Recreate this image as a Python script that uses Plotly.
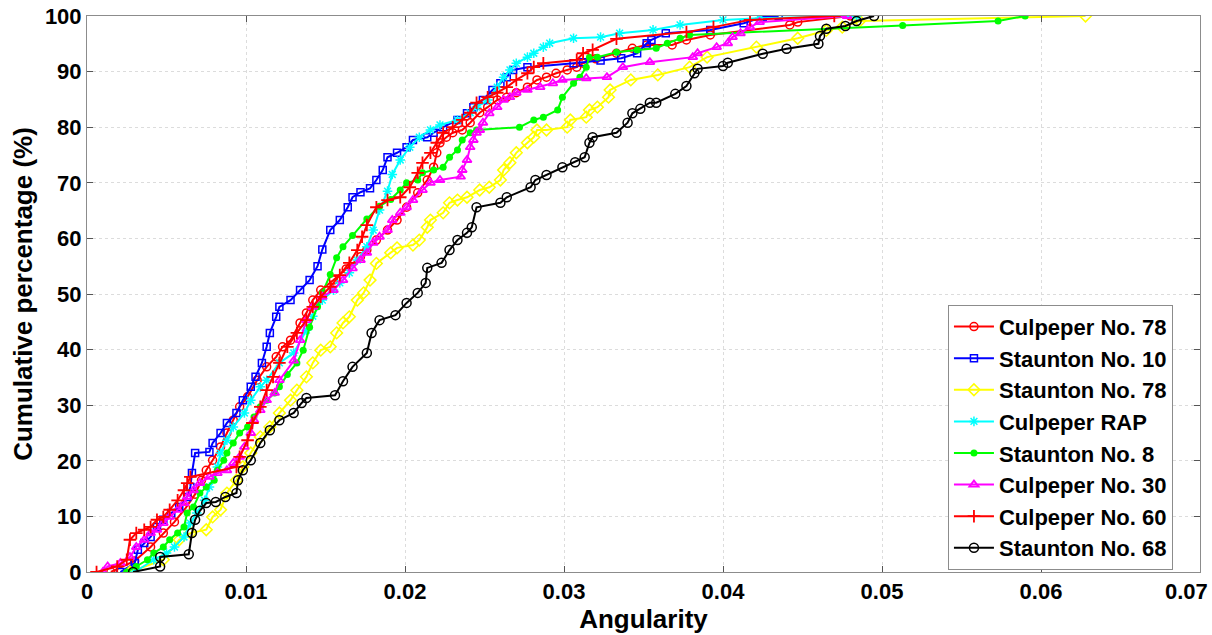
import plotly.graph_objects as go

# ---------------- data ----------------
names = ["Culpeper No. 78", "Staunton No. 10", "Staunton No. 78", "Culpeper RAP",
         "Staunton No. 8", "Culpeper No. 30", "Culpeper No. 60", "Staunton No. 68"]

c78_x = [0.0015, 0.0030, 0.0040, 0.0048, 0.0055, 0.0062, 0.0068, 0.0072, 0.0075, 0.0079,
         0.0084, 0.0088, 0.0092, 0.0096, 0.0101, 0.0107, 0.0113, 0.0119, 0.0123, 0.0128,
         0.0134, 0.0138, 0.0142, 0.0147, 0.0155, 0.0163, 0.0172, 0.0176, 0.0182, 0.0189,
         0.0195, 0.0201, 0.0208, 0.0214, 0.0218, 0.0220, 0.0222, 0.0226, 0.0230, 0.0236,
         0.0241, 0.0247, 0.0252, 0.0258, 0.0264, 0.0270, 0.0277, 0.0283, 0.0289, 0.0295,
         0.0302, 0.0308, 0.0312, 0.0320, 0.0333, 0.0343, 0.0352, 0.0368, 0.0377, 0.0392,
         0.0442, 0.0447, 0.0480]
c78_y = [0.0, 2.0, 4.5, 7.0, 9.0, 11.5, 14.0, 16.5, 18.3, 20.1,
         22.5, 25.0, 27.3, 29.7, 31.5, 34.5, 36.9, 38.7, 40.5, 41.7,
         44.8, 46.6, 48.9, 50.7, 52.5, 54.5, 56.7, 57.9, 59.7, 61.5,
         63.3, 65.6, 68.2, 70.5, 72.8, 75.4, 77.2, 78.2, 79.0, 79.5,
         80.8, 82.6, 83.6, 84.9, 85.4, 86.2, 87.2, 88.5, 89.0, 89.7,
         90.3, 90.8, 91.5, 92.3, 93.3, 94.2, 94.8, 94.8, 95.7, 96.6,
         98.4, 98.9, 100.0]

s10_x = [0.0021, 0.0030, 0.0032, 0.0036, 0.0040, 0.0044, 0.0048, 0.0053, 0.0058, 0.0063,
         0.0065, 0.0066, 0.0068, 0.0077, 0.0079, 0.0084, 0.0088, 0.0094, 0.0098, 0.0103,
         0.0106, 0.0110, 0.0113, 0.0115, 0.0119, 0.0121, 0.0128, 0.0134, 0.0140, 0.0145,
         0.0148, 0.0153, 0.0159, 0.0164, 0.0167, 0.0172, 0.0178, 0.0182, 0.0186, 0.0189,
         0.0195, 0.0201, 0.0205, 0.0214, 0.0218, 0.0224, 0.0233, 0.0239, 0.0243, 0.0249,
         0.0255, 0.0260, 0.0264, 0.0268, 0.0277, 0.0306, 0.0312, 0.0323, 0.0336, 0.0346,
         0.0352, 0.0355, 0.0364, 0.0392, 0.0413, 0.0425, 0.0435]
s10_y = [0.0, 1.6, 4.0, 5.2, 6.3, 8.1, 9.4, 10.6, 11.7, 13.5,
         15.3, 17.8, 21.4, 21.6, 23.2, 25.0, 26.8, 28.6, 30.9, 33.3,
         35.1, 37.6, 40.5, 43.0, 45.9, 47.7, 48.9, 50.7, 52.5, 55.0,
         58.0, 61.5, 63.3, 65.6, 67.4, 68.3, 69.0, 70.5, 72.3, 74.6,
         75.4, 76.4, 77.7, 78.2, 79.0, 80.0, 81.3, 82.5, 83.6, 84.9,
         86.7, 87.9, 89.0, 90.3, 90.8, 91.5, 91.7, 92.0, 92.4, 93.3,
         95.1, 95.7, 96.9, 97.5, 98.7, 99.8, 100.0]

s78_x = [0.0027, 0.0048, 0.0058, 0.0065, 0.0075, 0.0079, 0.0084, 0.0088, 0.0094, 0.0098,
         0.0103, 0.0109, 0.0115, 0.0121, 0.0128, 0.0132, 0.0138, 0.0142, 0.0147, 0.0153,
         0.0157, 0.0161, 0.0165, 0.0170, 0.0174, 0.0178, 0.0182, 0.0191, 0.0195, 0.0205,
         0.0209, 0.0214, 0.0216, 0.0224, 0.0228, 0.0233, 0.0239, 0.0247, 0.0253, 0.0260,
         0.0262, 0.0266, 0.0270, 0.0277, 0.0281, 0.0283, 0.0289, 0.0302, 0.0304, 0.0314,
         0.0316, 0.0321, 0.0328, 0.0329, 0.0342, 0.0359, 0.0379, 0.0390, 0.0421, 0.0447,
         0.0465, 0.0475, 0.0486, 0.0628]
s78_y = [0.0, 2.2, 5.8, 7.0, 7.6, 9.9, 11.2, 14.2, 16.5, 18.9,
         21.4, 24.3, 26.1, 28.6, 30.9, 32.7, 35.1, 37.6, 39.9, 40.5,
         43.0, 44.8, 45.9, 48.9, 50.2, 52.5, 55.5, 57.4, 58.3, 58.8,
         59.7, 62.0, 63.3, 64.6, 66.4, 66.9, 67.4, 68.7, 69.2, 70.5,
         72.3, 73.6, 75.4, 77.2, 78.2, 79.5, 79.5, 80.0, 81.3, 81.8,
         83.1, 83.6, 85.4, 86.7, 88.5, 89.4, 90.8, 92.6, 94.4, 96.0,
         97.4, 98.0, 99.1, 100.0]

rap_x = [0.0030, 0.0042, 0.0050, 0.0055, 0.0061, 0.0065, 0.0069, 0.0074, 0.0077, 0.0082,
         0.0084, 0.0088, 0.0092, 0.0099, 0.0103, 0.0109, 0.0113, 0.0121, 0.0130, 0.0138,
         0.0142, 0.0148, 0.0155, 0.0159, 0.0165, 0.0170, 0.0176, 0.0180, 0.0184, 0.0189,
         0.0192, 0.0197, 0.0203, 0.0209, 0.0216, 0.0222, 0.0233, 0.0241, 0.0245, 0.0252,
         0.0258, 0.0262, 0.0266, 0.0270, 0.0277, 0.0281, 0.0287, 0.0291, 0.0306, 0.0323,
         0.0335, 0.0356, 0.0373, 0.0400, 0.0423, 0.0484]
rap_y = [0.0, 2.2, 3.4, 4.5, 6.3, 8.8, 10.6, 12.9, 15.3, 18.9,
         21.4, 23.7, 26.1, 28.6, 30.9, 33.3, 34.5, 37.6, 39.4, 43.5,
         46.0, 48.9, 50.7, 52.0, 53.8, 56.1, 58.5, 61.5, 65.1, 68.5,
         71.5, 74.1, 76.4, 78.2, 79.5, 80.4, 81.3, 82.6, 83.6, 84.9,
         87.2, 89.0, 90.3, 91.5, 92.6, 93.3, 94.4, 95.1, 96.0, 96.2,
         96.9, 97.5, 98.4, 99.3, 99.6, 100.0]

s8_x = [0.0025, 0.0031, 0.0038, 0.0042, 0.0048, 0.0052, 0.0057, 0.0061, 0.0063, 0.0067,
        0.0071, 0.0075, 0.0080, 0.0082, 0.0086, 0.0088, 0.0092, 0.0096, 0.0101, 0.0105,
        0.0109, 0.0113, 0.0118, 0.0121, 0.0126, 0.0132, 0.0136, 0.0140, 0.0145, 0.0148,
        0.0153, 0.0157, 0.0161, 0.0167, 0.0176, 0.0184, 0.0191, 0.0197, 0.0201, 0.0208,
        0.0211, 0.0218, 0.0224, 0.0228, 0.0233, 0.0236, 0.0241, 0.0245, 0.0272, 0.0281,
        0.0287, 0.0296, 0.0299, 0.0306, 0.0310, 0.0314, 0.0316, 0.0321, 0.0333, 0.0346,
        0.0358, 0.0365, 0.0373, 0.0379, 0.0513, 0.0573, 0.0590]
s8_y = [0.0, 1.0, 2.2, 3.4, 4.5, 5.8, 7.0, 8.1, 10.6, 11.7,
        14.2, 15.3, 16.5, 18.3, 20.1, 21.4, 23.2, 25.0, 26.1, 27.9,
        29.7, 30.9, 32.2, 33.3, 35.5, 37.6, 39.9, 44.0, 47.7, 50.2,
        53.5, 56.5, 58.5, 60.5, 63.5, 65.8, 67.0, 68.7, 70.0, 70.5,
        71.8, 72.3, 72.8, 74.6, 75.9, 77.7, 79.0, 79.5, 80.0, 81.3,
        81.8, 83.1, 85.4, 87.9, 89.0, 90.8, 92.6, 92.6, 93.5, 93.9,
        94.2, 95.1, 96.0, 96.6, 98.3, 99.1, 100.0]

c30_x = [0.0010, 0.0013, 0.0021, 0.0027, 0.0031, 0.0036, 0.0040, 0.0044, 0.0048, 0.0052,
         0.0057, 0.0061, 0.0063, 0.0067, 0.0071, 0.0077, 0.0082, 0.0088, 0.0092, 0.0096,
         0.0099, 0.0103, 0.0105, 0.0109, 0.0113, 0.0118, 0.0121, 0.0130, 0.0134, 0.0138,
         0.0142, 0.0148, 0.0155, 0.0161, 0.0167, 0.0172, 0.0176, 0.0180, 0.0184, 0.0189,
         0.0192, 0.0197, 0.0201, 0.0205, 0.0211, 0.0216, 0.0222, 0.0235, 0.0236, 0.0239,
         0.0241, 0.0243, 0.0245, 0.0247, 0.0249, 0.0253, 0.0258, 0.0262, 0.0266, 0.0270,
         0.0277, 0.0285, 0.0293, 0.0299, 0.0314, 0.0327, 0.0337, 0.0354, 0.0381, 0.0384,
         0.0396, 0.0403, 0.0406, 0.0411, 0.0417, 0.0423, 0.0478]
c30_y = [0.0, 1.0, 1.6, 2.7, 4.5, 5.8, 7.0, 7.6, 8.8, 9.9,
         11.2, 12.4, 13.5, 14.7, 16.0, 17.1, 17.8, 18.3, 19.6, 20.7,
         22.5, 25.0, 27.3, 29.1, 30.9, 32.2, 34.5, 38.0, 41.7, 45.3,
         47.7, 49.5, 50.7, 52.5, 54.6, 56.1, 57.4, 59.2, 60.3, 61.5,
         63.3, 64.6, 65.6, 66.9, 68.7, 70.0, 70.5, 71.1, 72.3, 74.1,
         76.4, 77.7, 79.0, 79.5, 80.8, 82.5, 83.6, 84.9, 85.4, 86.2,
         86.7, 87.2, 87.9, 88.5, 88.8, 89.0, 90.8, 91.7, 92.6, 93.3,
         94.4, 95.1, 96.2, 96.9, 98.0, 98.9, 100.0]

c60_x = [0.0006, 0.0019, 0.0025, 0.0027, 0.0031, 0.0036, 0.0040, 0.0044, 0.0048, 0.0052,
         0.0057, 0.0061, 0.0063, 0.0065, 0.0094, 0.0096, 0.0101, 0.0104, 0.0109, 0.0113,
         0.0117, 0.0121, 0.0126, 0.0132, 0.0138, 0.0142, 0.0147, 0.0153, 0.0159, 0.0165,
         0.0170, 0.0173, 0.0176, 0.0182, 0.0189, 0.0197, 0.0203, 0.0208, 0.0211, 0.0216,
         0.0220, 0.0224, 0.0230, 0.0236, 0.0241, 0.0245, 0.0252, 0.0258, 0.0264, 0.0270,
         0.0277, 0.0281, 0.0287, 0.0308, 0.0312, 0.0318, 0.0333, 0.0377, 0.0394, 0.0417,
         0.0470]
c60_y = [0.0, 1.0, 2.2, 5.8, 7.0, 7.6, 8.1, 9.4, 9.9, 11.2,
         12.9, 14.7, 16.0, 17.1, 18.9, 20.7, 23.7, 26.8, 29.7, 32.7,
         35.1, 37.6, 40.5, 43.0, 45.3, 47.7, 49.5, 51.3, 53.4, 55.6,
         57.9, 60.3, 62.4, 65.6, 66.9, 67.4, 69.2, 71.8, 73.6, 75.4,
         77.2, 79.0, 80.0, 81.3, 82.6, 84.4, 85.4, 86.2, 87.2, 88.5,
         89.7, 90.8, 91.5, 92.1, 93.3, 93.9, 95.9, 97.1, 98.0, 99.3,
         100.0]

s68_x = [0.0029, 0.0046, 0.0046, 0.0064, 0.0066, 0.0068, 0.0071, 0.0075, 0.0081, 0.0087,
         0.0094, 0.0095, 0.0098, 0.0103, 0.0109, 0.0115, 0.0121, 0.0130, 0.0135, 0.0138,
         0.0156, 0.0161, 0.0167, 0.0176, 0.0179, 0.0184, 0.0194, 0.0201, 0.0208, 0.0213,
         0.0214, 0.0223, 0.0228, 0.0233, 0.0239, 0.0242, 0.0245, 0.0260, 0.0264, 0.0279,
         0.0282, 0.0289, 0.0299, 0.0307, 0.0313, 0.0316, 0.0318, 0.0333, 0.0340, 0.0343,
         0.0348, 0.0354, 0.0358, 0.0370, 0.0377, 0.0382, 0.0384, 0.0400, 0.0403, 0.0425,
         0.0440, 0.0460, 0.0461, 0.0465, 0.0477, 0.0484, 0.0495]
s68_y = [0.0, 1.0, 2.7, 3.2, 7.0, 9.4, 11.0, 12.4, 12.6, 13.5,
         14.2, 16.5, 18.3, 20.1, 23.2, 25.5, 27.3, 28.6, 30.4, 31.3,
         31.8, 34.3, 36.9, 39.4, 43.0, 45.3, 46.2, 48.4, 50.2, 52.0,
         54.7, 55.6, 57.9, 59.7, 61.0, 62.0, 65.6, 66.4, 67.4, 69.2,
         70.5, 71.4, 72.8, 73.7, 74.6, 77.2, 78.2, 79.0, 80.8, 82.5,
         83.3, 84.4, 84.4, 86.0, 87.4, 89.7, 90.5, 91.0, 91.6, 93.2,
         94.1, 95.0, 96.4, 97.7, 98.2, 99.1, 100.0]

x_ticks = [0, 0.01, 0.02, 0.03, 0.04, 0.05, 0.06, 0.07]
x_tick_text = ["0", "0.01", "0.02", "0.03", "0.04", "0.05", "0.06", "0.07"]
y_ticks = [0, 10, 20, 30, 40, 50, 60, 70, 80, 90, 100]

# ---------------- styles ----------------
series = [
    (c78_x, c78_y, "#ff0000", "circle-open", 8, 1.5),
    (s10_x, s10_y, "#0000ff", "square-open", 7, 1.5),
    (s78_x, s78_y, "#ffff00", "diamond-open", 9, 1.5),
    (rap_x, rap_y, "#00ffff", "asterisk-open", 8, 1.5),
    (s8_x, s8_y, "#00ff00", "circle", 7, 0),
    (c30_x, c30_y, "#ff00ff", "triangle-up-open", 8, 1.8),
    (c60_x, c60_y, "#ff0000", "cross-thin-open", 9, 1.8),
    (s68_x, s68_y, "#000000", "circle-open", 9, 1.5),
]

fig = go.Figure()
for name, (xs, ys, col, sym, size, lw) in zip(names, series):
    fig.add_trace(go.Scatter(
        x=xs, y=ys, name=name, mode="lines+markers",
        line=dict(color=col, width=2),
        marker=dict(symbol=sym, size=size, color=col,
                    line=dict(color=col, width=lw)),
    ))

font_family = "Liberation Sans, Arial, sans-serif"
tick_family = "Liberation Sans Narrow, Arial Narrow, Liberation Sans, Arial, sans-serif"
tick_font = dict(family=tick_family, size=22, color="black", weight="bold")
axis_common = dict(
    showline=True, linecolor="#8c8c8c", linewidth=1, mirror="ticks",
    ticks="inside", ticklen=6, tickcolor="#555555",
    showgrid=True, gridcolor="#dcdcdc", griddash="dot", gridwidth=1,
    zeroline=False, automargin=False,
    tickfont=tick_font,
)

# the right-most x label sits at the page edge, so it is placed as a
# right-aligned annotation at its tick instead of a centred tick label
x_tick_labels_axis = x_tick_text[:-1] + [""]

fig.update_layout(
    width=1212, height=635,
    margin=dict(l=87, r=12, t=16, b=63, autoexpand=False),
    paper_bgcolor="white", plot_bgcolor="white",
    font=dict(family=font_family, color="black"),
    xaxis=dict(range=[0, 0.07], tickvals=x_ticks, ticktext=x_tick_labels_axis,
               title=dict(text="<b>Angularity</b>", font=dict(size=26), standoff=0),
               **axis_common),
    yaxis=dict(range=[0, 100], tickvals=y_ticks,
               title=dict(text="<b>Cumulative percentage (%)</b>", font=dict(size=26), standoff=4),
               **axis_common),
    legend=dict(x=0.9757, y=0.004, xanchor="right", yanchor="bottom",
                bgcolor="white", bordercolor="#8c8c8c", borderwidth=1,
                font=dict(family=font_family, size=22, color="black", weight="bold"),
                tracegroupgap=0, itemwidth=40),
    showlegend=True,
    annotations=[dict(text=x_tick_text[-1], x=x_ticks[-1], xref="x", y=0, yref="paper",
                      xanchor="right", yanchor="top", xshift=10, yshift=-5,
                      showarrow=False, font=tick_font)],
)

fig.write_html("out.html")
